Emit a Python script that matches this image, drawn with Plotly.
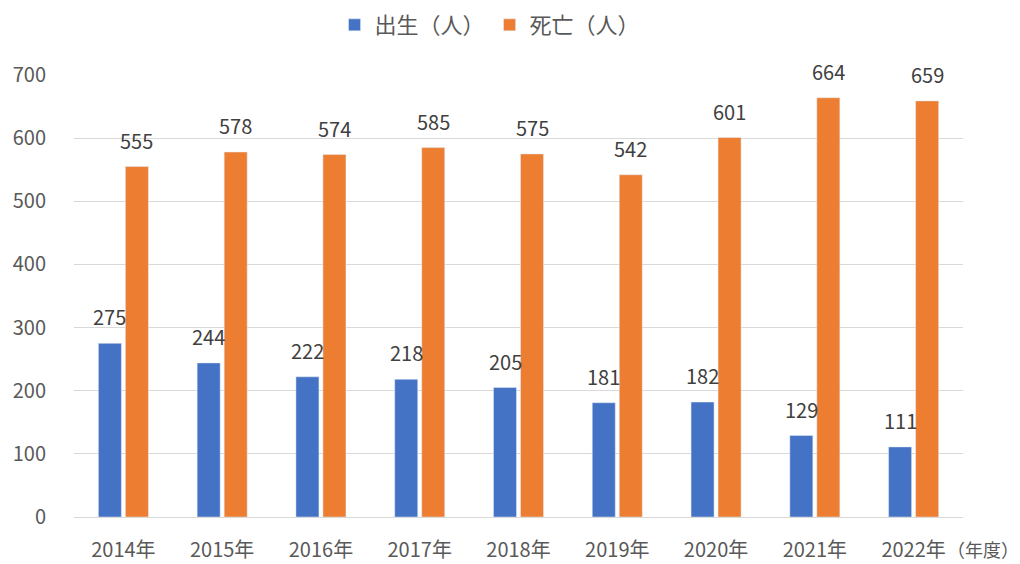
import plotly.graph_objects as go

years = ["2014年", "2015年", "2016年", "2017年", "2018年", "2019年", "2020年", "2021年", "2022年"]
births = [275, 244, 222, 218, 205, 181, 182, 129, 111]
deaths = [555, 578, 574, 585, 575, 542, 601, 664, 659]

FONT = "Noto Sans CJK JP"
TXT = "#595959"
LBL = "#404040"

fig = go.Figure()
fig.add_trace(go.Bar(name="出生（人）", x=years, y=births, marker_color="#4472C4"))
fig.add_trace(go.Bar(name="死亡（人）", x=years, y=deaths, marker_color="#ED7D31"))

# data labels placed above each bar, from the data arrays
for series, shift in ((births, -13.5), (deaths, 13.5)):
    for yr, v in zip(years, series):
        fig.add_annotation(x=yr, y=v, text=str(v), showarrow=False, xref="x", yref="y",
                           xanchor="center", yanchor="bottom", xshift=shift, yshift=10,
                           font=dict(size=20, color=LBL, family=FONT))

# page body has an 8px margin, so size the figure to fit the 1020x564 window
fig.update_layout(
    width=1012, height=556,
    margin=dict(l=66, r=57, t=67, b=47, autoexpand=False),
    plot_bgcolor="white", paper_bgcolor="white",
    barmode="group", bargap=0.453, bargroupgap=0.148,
    font=dict(family=FONT, color=TXT, size=20),
    legend=dict(orientation="h", x=0.468, xanchor="center", y=1.113, yanchor="middle",
                font=dict(size=22, color=TXT, family=FONT),
                traceorder="normal", itemwidth=30),
    showlegend=True,
)
fig.update_xaxes(showgrid=False, showline=False, ticks="", tickfont=dict(size=20, color=TXT),
                 ticklabelstandoff=19, automargin=False)
fig.update_yaxes(range=[0, 700], dtick=100, showgrid=True, gridcolor="#D9D9D9", gridwidth=1,
                 zeroline=True, zerolinecolor="#D9D9D9", zerolinewidth=1,
                 tickfont=dict(size=20, color=TXT), ticklabelstandoff=27, automargin=False)
fig.add_annotation(text="（年度）", xref="paper", yref="paper", x=1.0, y=0, xanchor="right",
                   yanchor="middle", yshift=-32, xshift=58, showarrow=False,
                   font=dict(size=18, color=TXT, family=FONT))
fig.write_html("out.html")
